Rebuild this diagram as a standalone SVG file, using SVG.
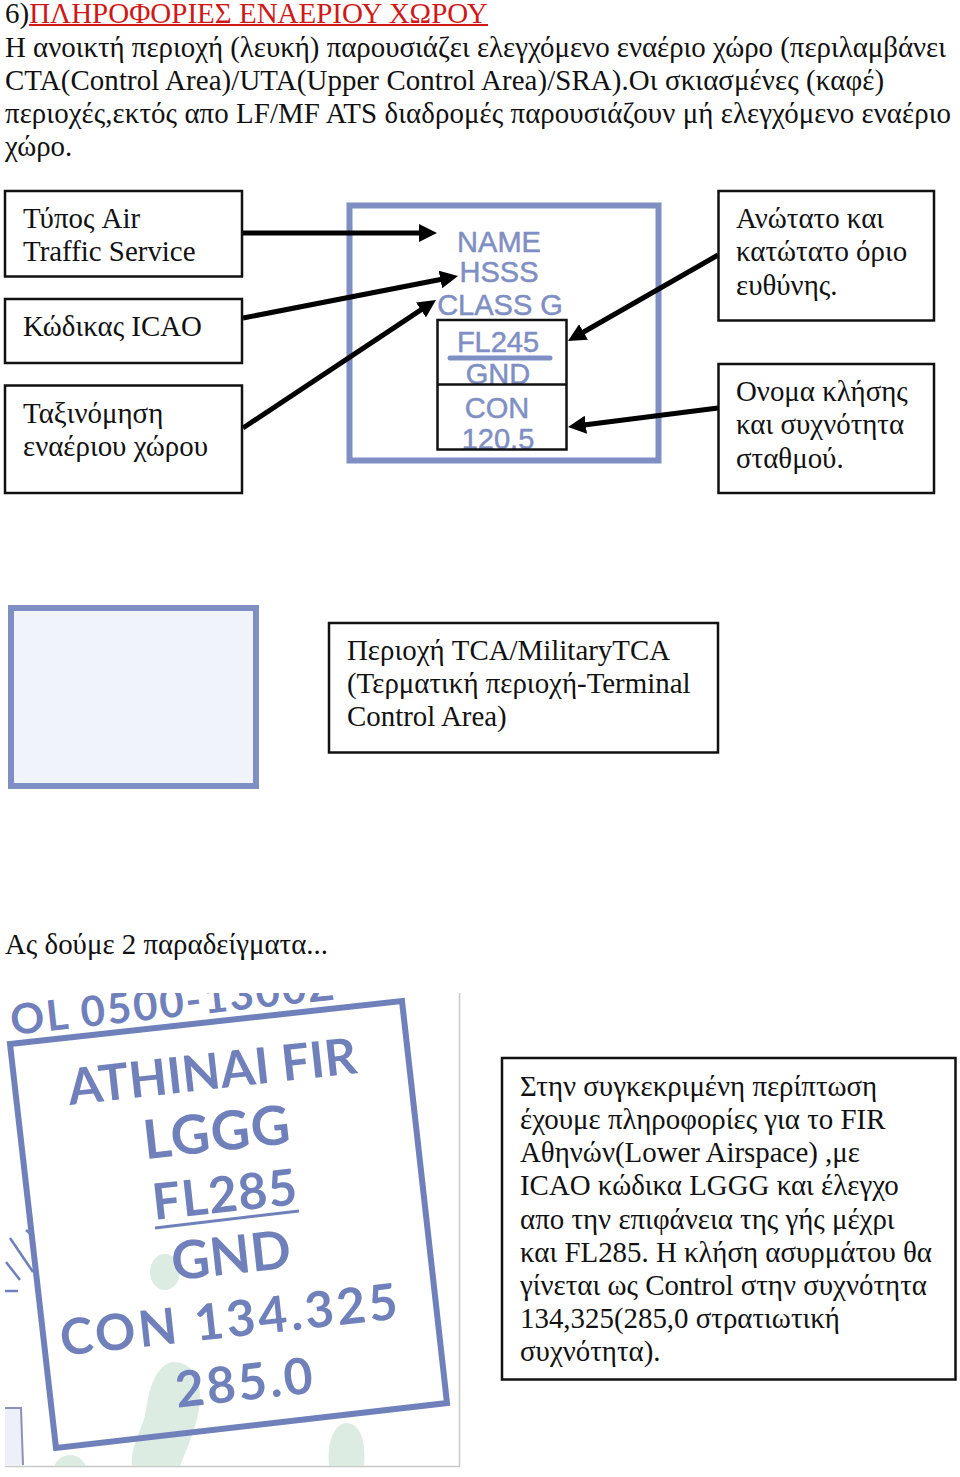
<svg xmlns="http://www.w3.org/2000/svg" width="960" height="1477" viewBox="0 0 960 1477">
<style>
.t{font-family:"Liberation Serif","Times New Roman",serif;font-size:28.9px;fill:#111}
.box{fill:#fff;stroke:#111;stroke-width:2.5}
.c{stroke:#000;stroke-width:5;fill:none;marker-end:url(#a)}
.s{font-family:"Liberation Sans",Arial,sans-serif;font-size:29px;fill:#7f8fc4;stroke:#7f8fc4;stroke-width:.5;text-anchor:middle}
.m{font-family:Lato,"Liberation Sans",sans-serif;font-size:50px;font-weight:700;fill:#6f80bb;text-anchor:middle}
</style>
<defs><marker id="a" markerUnits="userSpaceOnUse" markerWidth="20" markerHeight="18" refX="4" refY="9" orient="auto"><path d="M0 0L18 9L0 18z" fill="#000"/></marker></defs>
<rect width="960" height="1477" fill="#fff"/>
<g id="intro">
<text class="t" x="5" y="23" style="font-size:29px">6)<tspan fill="#d01818">ΠΛΗΡΟΦΟΡΙΕΣ ΕΝΑΕΡΙΟΥ ΧΩΡΟΥ</tspan></text>
<line x1="29" y1="25" x2="488" y2="25" stroke="#d01818" stroke-width="2"/>
<text class="t" x="5" y="57" textLength="941">Η ανοικτή περιοχή (λευκή) παρουσιάζει ελεγχόμενο εναέριο χώρο (περιλαμβάνει</text>
<text class="t" x="5" y="90" textLength="879">CTA(Control Area)/UTA(Upper Control Area)/SRA).Οι σκιασμένες (καφέ)</text>
<text class="t" x="5" y="123" textLength="946">περιοχές,εκτός απο LF/MF ATS διαδρομές παρουσιάζουν μή ελεγχόμενο εναέριο</text>
<text class="t" x="5" y="156">χώρο.</text>
</g>
<g id="chart-sample">
<rect x="349.500" y="205.500" width="309" height="255" fill="#fff" stroke="#7f8fc4" stroke-width="6"/>
<text class="s" x="499" y="252">NAME</text>
<text class="s" x="499" y="282">HSSS</text>
<text class="s" x="500" y="315">CLASS G</text>
<text class="s" x="498" y="352">FL245</text>
<line x1="450" y1="358" x2="550" y2="358" stroke="#7f8fc4" stroke-width="5" stroke-linecap="round"/>
<text class="s" x="498" y="384">GND</text>
<text class="s" x="497" y="418">CON</text>
<text class="s" x="498" y="449">120.5</text>
<rect x="437.500" y="320" width="129" height="129.500" fill="none" stroke="#111" stroke-width="2.500"/>
<line x1="437" y1="384.500" x2="567" y2="384.500" stroke="#111" stroke-width="2.500"/>
</g>
<g id="connectors">
<line class="c" x1="243" y1="233" x2="423" y2="233"/>
<line class="c" x1="243" y1="318" x2="444.300" y2="278.700"/>
<line class="c" x1="243" y1="428" x2="424.300" y2="307.700"/>
<line class="c" x1="718" y1="255" x2="580.100" y2="334"/>
<line class="c" x1="718" y1="408" x2="581.900" y2="425.200"/>
</g>
<g id="n-type"><rect class="box" x="5" y="191" width="237" height="85.500"/><text class="t" x="23" y="228">Τύπος Air</text><text class="t" x="23" y="261">Traffic Service</text></g>
<g id="n-icao"><rect class="box" x="5" y="299" width="237" height="64"/><text class="t" x="23" y="336">Κώδικας ICAO</text></g>
<g id="n-class"><rect class="box" x="5" y="385.500" width="237" height="107.500"/><text class="t" x="23" y="423">Ταξινόμηση</text><text class="t" x="23" y="456">εναέριου χώρου</text></g>
<g id="n-limits"><rect class="box" x="718.500" y="191" width="215.500" height="129.500"/><text class="t" x="736" y="228">Ανώτατο και</text><text class="t" x="736" y="261">κατώτατο όριο</text><text class="t" x="736" y="295">ευθύνης.</text></g>
<g id="n-call"><rect class="box" x="718.500" y="364" width="215.500" height="129"/><text class="t" x="736" y="401">Ονομα κλήσης</text><text class="t" x="736" y="434">και συχνότητα</text><text class="t" x="736" y="468">σταθμού.</text></g>
<g id="tca-swatch"><rect x="11" y="608" width="245" height="178" fill="#f1f3fa" stroke="#7f8fc4" stroke-width="6"/></g>
<g id="n-tca"><rect class="box" x="329" y="623" width="389" height="129.500"/><text class="t" x="347" y="660">Περιοχή TCA/MilitaryTCA</text><text class="t" x="347" y="693">(Τερματική περιοχή-Terminal</text><text class="t" x="347" y="726">Control Area)</text></g>
<text class="t" x="5" y="954">Ας δούμε 2 παραδείγματα...</text>
<g id="map-example">
<clipPath id="mc"><rect x="5" y="993" width="454" height="473"/></clipPath>
<line x1="459.500" y1="993" x2="459.500" y2="1467" stroke="#c8c8c8" stroke-width="1.500"/>
<line x1="5" y1="1466.500" x2="460" y2="1466.500" stroke="#c8c8c8" stroke-width="1.500"/>
<g clip-path="url(#mc)">
<ellipse cx="165" cy="1272" rx="15" ry="18" fill="#dcece3"/>
<path d="M173 1362C190 1362 200 1375 200 1395C200 1420 190 1440 180 1466H132C130 1445 143 1430 146 1410C149 1390 155 1365 173 1362Z" fill="#dcece3"/>
<path d="M346 1423C360 1423 366 1440 364 1466H329C327 1445 332 1425 346 1423Z" fill="#dcece3"/>
<ellipse cx="70" cy="1470" rx="16" ry="15" fill="#dcece3"/>
<text class="m" transform="translate(12 1035) rotate(-6.300)" style="font-size:42px;text-anchor:start;letter-spacing:2px">OL 0500-1300Z</text>
<path d="M10 1238L33 1272M6 1262L20 1280M5 1291H18M26 1230L33 1236" stroke="#6f80bb" stroke-width="2.500" fill="none"/>
<path d="M5 1408H21L23 1465H5Z" fill="#edf0f8"/>
<path d="M5 1408H21L23 1465" fill="none" stroke="#8a93b5" stroke-width="2"/>
</g>
<path d="M10 1044L402 1001L447 1403L56 1448Z" fill="none" stroke="#6f80bb" stroke-width="6"/>
<text class="m" transform="translate(214 1089) rotate(-6.300)">ATHINAI FIR</text>
<text class="m" transform="translate(219 1151) rotate(-6.300)" style="font-size:54px;letter-spacing:1px">LGGG</text>
<text class="m" transform="translate(227 1212) rotate(-6.300)" style="letter-spacing:1px">FL285</text>
<line x1="155" y1="1228" x2="299" y2="1211" stroke="#6f80bb" stroke-width="3"/>
<text class="m" transform="translate(233 1274) rotate(-6.300)" style="font-size:53px">GND</text>
<text class="m" transform="translate(232 1337) rotate(-6.300)" style="letter-spacing:3px">CON 134.325</text>
<text class="m" transform="translate(247 1400) rotate(-6.300)" style="letter-spacing:2.500px">285.0</text>
</g>
<g id="n-example"><rect class="box" x="502" y="1058" width="453.500" height="321.500"/>
<text class="t" x="520" y="1096">Στην συγκεκριμένη περίπτωση</text>
<text class="t" x="520" y="1129">έχουμε πληροφορίες για το FIR</text>
<text class="t" x="520" y="1162">Αθηνών(Lower Airspace) ,με</text>
<text class="t" x="520" y="1195">ICAO κώδικα LGGG και έλεγχο</text>
<text class="t" x="520" y="1229">απο την επιφάνεια της γής μέχρι</text>
<text class="t" x="520" y="1262">και FL285. Η κλήση ασυρμάτου θα</text>
<text class="t" x="520" y="1295">γίνεται ως Control στην συχνότητα</text>
<text class="t" x="520" y="1328">134,325(285,0 στρατιωτική</text>
<text class="t" x="520" y="1361">συχνότητα).</text>
</g>
</svg>
